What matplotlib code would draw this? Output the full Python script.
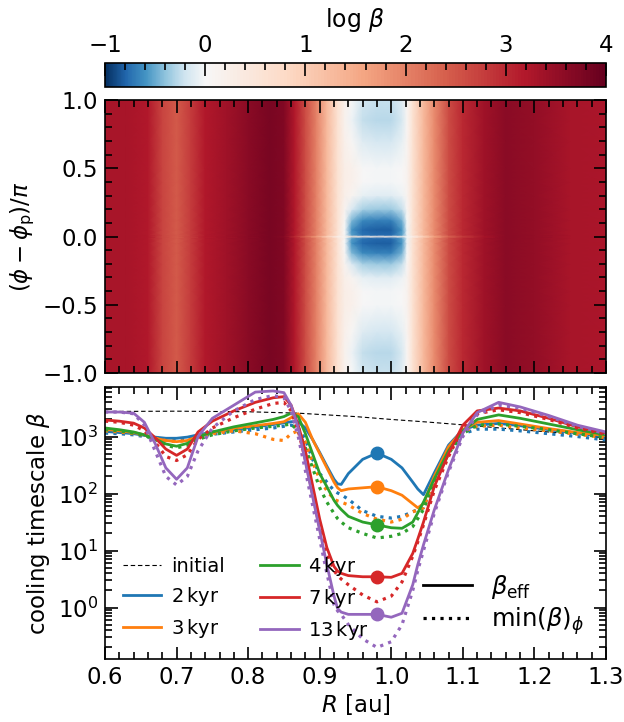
import numpy as np
import matplotlib
matplotlib.use("Agg")
import matplotlib.pyplot as plt
from matplotlib.colors import ListedColormap, TwoSlopeNorm, Normalize
from matplotlib.ticker import MultipleLocator, LogLocator, NullFormatter
from matplotlib.lines import Line2D

# ===========================================
# DATA: top panel, log(beta) map
# ===========================================
R_map = [0.6, 0.63, 0.66, 0.68, 0.70, 0.72, 0.74, 0.77, 0.80, 0.83, 0.85, 0.865,
         0.88, 0.895, 0.91, 0.925, 0.935, 0.945, 0.96, 0.98, 1.0, 1.015, 1.022,
         1.03, 1.045, 1.06, 1.08, 1.1, 1.13, 1.16, 1.2, 1.25, 1.3]
logb_radial = [3.3, 3.3, 3.2, 2.7, 2.45, 2.8, 3.2, 3.4, 3.6, 3.8, 3.7, 3.2,
               2.6, 2.0, 1.3, 0.6, 0.2, 0.0, -0.18, -0.22, -0.22, -0.12, 0.1,
               0.6, 1.3, 1.9, 2.6, 3.0, 3.4, 3.6, 3.5, 3.3, 3.25]
phi_map = [-1.0, -0.85, -0.7, -0.5, -0.4, -0.3, -0.2, -0.12, -0.05, -0.012, 0.0,
           0.012, 0.05, 0.12, 0.2, 0.3, 0.4, 0.5, 0.7, 0.85, 1.0]
gap_dlog = [0.0, -0.05, 0.05, 0.2, 0.2, 0.1, -0.15, -0.45, -0.6, -0.55, 0.5,
            -0.55, -0.6, -0.45, -0.15, 0.1, 0.2, 0.2, 0.05, -0.05, 0.0]
gap_R = [0.93, 0.945, 1.012, 1.025]
gap_weight = [0.0, 1.0, 1.0, 0.0]
streak_R = [0.84, 0.88, 0.93, 0.945, 1.012, 1.03, 1.08, 1.16]
streak_dlog = [0.0, -0.3, -0.4, 0.0, 0.0, -0.4, -0.3, 0.0]

# ===========================================
# DATA: bottom panel, cooling timescale (log10 beta)
# ===========================================
R_beta = [0.6, 0.62, 0.64, 0.655, 0.67, 0.685, 0.7, 0.715, 0.73, 0.75, 0.78, 0.81,
          0.835, 0.85, 0.86, 0.87, 0.88, 0.89, 0.9, 0.91, 0.92, 0.925, 0.93, 0.94,
          0.96, 0.98, 1.0, 1.015, 1.03, 1.037, 1.045, 1.06, 1.08, 1.1, 1.12, 1.15,
          1.18, 1.22, 1.26, 1.3]

eff_2kyr = [3.09, 3.07, 3.05, 3.02, 2.99, 2.97, 2.97, 2.99, 3.03, 3.08, 3.12, 3.17,
            3.21, 3.24, 3.26, 3.26, 3.15, 2.95, 2.72, 2.48, 2.25, 2.17, 2.16, 2.35,
            2.6, 2.71, 2.6, 2.45, 2.2, 2.08, 1.98, 2.36, 2.85, 3.12, 3.2, 3.23,
            3.19, 3.12, 3.06, 3.0]
min_2kyr = [3.06, 3.05, 3.03, 3.0, 2.98, 2.96, 2.95, 2.97, 3.0, 3.04, 3.08, 3.12,
            3.15, 3.18, 3.2, 3.15, 2.95, 2.6, 2.35, 2.2, 2.05, 2.01, 1.98, 1.9,
            1.7, 1.6, 1.57, 1.6, 1.68, 1.72, 1.75, 2.25, 2.75, 3.05, 3.13, 3.13,
            3.1, 3.05, 3.0, 2.94]
eff_3kyr = [3.13, 3.1, 3.07, 3.03, 2.97, 2.93, 2.91, 2.93, 3.0, 3.07, 3.14, 3.19,
            3.23, 3.26, 3.33, 3.4, 3.25, 2.95, 2.7, 2.45, 2.2, 2.1, 2.05, 2.08,
            2.1, 2.12, 2.05, 1.97, 1.82, 1.75, 1.82, 2.3, 2.82, 3.12, 3.25, 3.28,
            3.22, 3.14, 3.07, 3.02]
min_3kyr = [3.1, 3.08, 3.05, 3.02, 2.97, 2.93, 2.91, 2.93, 2.99, 3.05, 3.1, 3.05,
            2.95, 2.93, 3.05, 3.1, 2.9, 2.55, 2.25, 2.05, 1.9, 1.87, 1.85, 1.8,
            1.65, 1.55, 1.5, 1.55, 1.68, 1.71, 1.75, 2.25, 2.78, 3.08, 3.18, 3.2,
            3.15, 3.1, 3.04, 2.98]
eff_4kyr = [3.15, 3.12, 3.08, 3.03, 2.96, 2.87, 2.83, 2.88, 2.99, 3.08, 3.17, 3.24,
            3.3, 3.35, 3.41, 3.35, 3.05, 2.7, 2.35, 2.12, 1.88, 1.79, 1.72, 1.6,
            1.5, 1.45, 1.4, 1.39, 1.5, 1.66, 1.85, 2.25, 2.75, 3.1, 3.3, 3.38,
            3.32, 3.22, 3.12, 3.03]
min_4kyr = [3.12, 3.1, 3.06, 3.02, 2.95, 2.85, 2.8, 2.85, 2.95, 3.03, 3.1, 3.15,
            3.18, 3.2, 3.22, 3.1, 2.8, 2.45, 2.1, 1.85, 1.65, 1.56, 1.5, 1.4,
            1.3, 1.22, 1.25, 1.3, 1.42, 1.56, 1.72, 2.2, 2.7, 3.05, 3.2, 3.22,
            3.18, 3.12, 3.05, 2.98]
eff_7kyr = [3.29, 3.27, 3.235, 3.15, 2.98, 2.78, 2.67, 2.78, 3.08, 3.27, 3.45, 3.6,
            3.68, 3.7, 3.55, 3.2, 2.75, 2.15, 1.55, 1.05, 0.72, 0.64, 0.6, 0.56,
            0.54, 0.54, 0.53, 0.6, 0.95, 1.2, 1.5, 2.12, 2.7, 3.2, 3.45, 3.5,
            3.45, 3.32, 3.17, 3.06]
min_7kyr = [3.27, 3.25, 3.2, 3.1, 2.9, 2.65, 2.58, 2.68, 2.95, 3.15, 3.33, 3.48,
            3.58, 3.6, 3.45, 3.1, 2.6, 2.0, 1.4, 0.95, 0.65, 0.56, 0.5, 0.4,
            0.22, 0.1, 0.2, 0.45, 0.9, 1.15, 1.45, 2.05, 2.65, 3.15, 3.4, 3.47,
            3.42, 3.3, 3.15, 3.04]
eff_13kyr = [3.43, 3.43, 3.41, 3.25, 2.88, 2.45, 2.25, 2.45, 3.0, 3.32, 3.55, 3.78,
             3.8, 3.77, 3.55, 3.15, 2.55, 1.95, 1.35, 0.75, 0.2, -0.02, -0.08, -0.12,
             -0.12, -0.12, -0.17, -0.1, 0.4, 0.75, 1.1, 1.71, 2.42, 3.06, 3.42, 3.6,
             3.52, 3.37, 3.2, 3.08]
min_13kyr = [3.43, 3.43, 3.4, 3.2, 2.75, 2.3, 2.15, 2.3, 2.75, 3.15, 3.45, 3.65,
             3.72, 3.68, 3.45, 3.0, 2.4, 1.8, 1.2, 0.6, 0.05, -0.06, -0.12, -0.3,
             -0.55, -0.7, -0.6, -0.3, 0.3, 0.65, 1.0, 1.65, 2.38, 3.0, 3.38, 3.55,
             3.5, 3.35, 3.18, 3.05]

R_init = [0.6, 0.7, 0.8, 0.87, 0.95, 1.0, 1.05, 1.1, 1.2, 1.3]
log_init = [3.44, 3.445, 3.435, 3.41, 3.35, 3.3, 3.255, 3.205, 3.1, 3.0]

R_planet = 0.98
log_planet = [2.71, 2.12, 1.45, 0.54, -0.12]

times = ["2", "3", "4", "7", "13"]
colors = ["tab:blue", "tab:orange", "tab:green", "tab:red", "tab:purple"]
eff_curves = [eff_2kyr, eff_3kyr, eff_4kyr, eff_7kyr, eff_13kyr]
min_curves = [min_2kyr, min_3kyr, min_4kyr, min_7kyr, min_13kyr]

# ===========================================
# STYLE
# ===========================================
plt.rcParams["font.family"] = ["DejaVu Sans"]
plt.rcParams["axes.linewidth"] = 1.2
plt.rcParams["font.size"] = 15
TICK_FS = 16.5
LABEL_FS = 16.5


def main():
    W, H = 624, 722

    def px(left, top, right, bottom):
        return [left / W, 1 - bottom / H, (right - left) / W, (bottom - top) / H]

    fig = plt.figure(figsize=(W / 100, H / 100), dpi=100)
    cax = fig.add_axes(px(105, 63, 606, 87))
    ax_map = fig.add_axes(px(105, 100, 606, 373))
    ax_b = fig.add_axes(px(105, 387, 606, 659))

    # colormap: RdBu_r with white at 0, on a linear -1..4 bar
    vals = np.linspace(-1, 4, 512)
    cmap = ListedColormap(plt.get_cmap("RdBu_r")(TwoSlopeNorm(vcenter=0, vmin=-1, vmax=4)(vals)))
    norm = Normalize(vmin=-1, vmax=4)

    # ---------------------------------------------------------
    # 1. map
    # ---------------------------------------------------------
    Rm = np.array(R_map)
    ph = np.array(phi_map)
    gw = np.interp(Rm, gap_R, gap_weight)
    st = np.interp(Rm, streak_R, streak_dlog)
    Z = np.array(logb_radial)[None, :] + gw[None, :] * np.array(gap_dlog)[:, None]
    Z[ph == 0.0, :] += st
    mesh = ax_map.pcolormesh(Rm, ph, Z, cmap=cmap, norm=norm, shading="gouraud")
    ax_map.set_xlim(0.6, 1.3)
    ax_map.set_ylim(-1, 1)
    ax_map.set_ylabel(r"$(\phi - \phi_\mathrm{p})/\pi$", fontsize=LABEL_FS)
    ax_map.yaxis.set_major_locator(MultipleLocator(0.5))
    ax_map.yaxis.set_minor_locator(MultipleLocator(0.1))
    ax_map.xaxis.set_major_locator(MultipleLocator(0.1))
    ax_map.xaxis.set_minor_locator(MultipleLocator(0.02))
    ax_map.tick_params(labelbottom=False)

    # ---------------------------------------------------------
    # 2. colorbar
    # ---------------------------------------------------------
    cb = fig.colorbar(mesh, cax=cax, orientation="horizontal")
    cb.outline.set_linewidth(1.2)
    cb.set_ticks([-1, 0, 1, 2, 3, 4])
    cax.xaxis.set_minor_locator(MultipleLocator(0.2))
    cax.xaxis.set_ticks_position("top")
    cax.xaxis.set_label_position("top")
    cax.set_xlabel(r"$\log\,\beta$", fontsize=17, labelpad=5)
    cax.tick_params(which="both", direction="in", top=True, bottom=False,
                    labeltop=True, labelbottom=False, width=1.2,
                    labelsize=TICK_FS, pad=4)
    cax.tick_params(which="major", length=9)
    cax.tick_params(which="minor", length=5)

    # ---------------------------------------------------------
    # 3. cooling timescale
    # ---------------------------------------------------------
    ax_b.plot(R_init, 10 ** np.array(log_init), "k--", lw=0.8, dashes=(4, 2.5),
              label="initial")
    for t, c, e, m, bp in zip(times, colors, eff_curves, min_curves, log_planet):
        ax_b.plot(R_beta, 10 ** np.array(e), color=c, lw=2.0,
                  label=t + r"$\,$kyr")
        ax_b.plot(R_beta, 10 ** np.array(m), color=c, lw=2.3, ls=":")
        ax_b.plot([R_planet], [10 ** bp], "o", color=c, ms=9)

    ax_b.set_yscale("log")
    ax_b.set_xlim(0.6, 1.3)
    ax_b.set_ylim(0.125, 7400)
    ax_b.xaxis.set_major_locator(MultipleLocator(0.1))
    ax_b.xaxis.set_minor_locator(MultipleLocator(0.02))
    ax_b.yaxis.set_major_locator(LogLocator(base=10, numticks=20))
    ax_b.yaxis.set_minor_locator(LogLocator(base=10, subs=np.arange(2, 10), numticks=20))
    ax_b.yaxis.set_minor_formatter(NullFormatter())
    ax_b.set_xlabel(r"$R$ [au]", fontsize=LABEL_FS, labelpad=2)
    ax_b.set_ylabel(r"cooling timescale $\beta$", fontsize=LABEL_FS)

    leg1 = ax_b.legend(loc="lower left", ncol=2, frameon=False, fontsize=14,
                       labelspacing=0.45, columnspacing=1.8, handletextpad=0.5)
    ax_b.add_artist(leg1)
    h2 = [Line2D([], [], color="k", lw=2.0),
          Line2D([], [], color="k", lw=2.3, ls=":")]
    ax_b.legend(h2, [r"$\beta_\mathrm{eff}$", r"$\min(\beta)_\phi$"],
                loc="lower right", frameon=False, fontsize=17.5, labelspacing=0.2)

    for ax in (ax_map, ax_b):
        ax.tick_params(which="both", direction="in", top=True, right=True,
                       width=1.2, labelsize=TICK_FS, pad=5)
        ax.tick_params(which="major", length=9)
        ax.tick_params(which="minor", length=5)

    fig.align_ylabels([ax_map, ax_b])
    fig.savefig("out.png", dpi=100)


if __name__ == "__main__":
    main()
